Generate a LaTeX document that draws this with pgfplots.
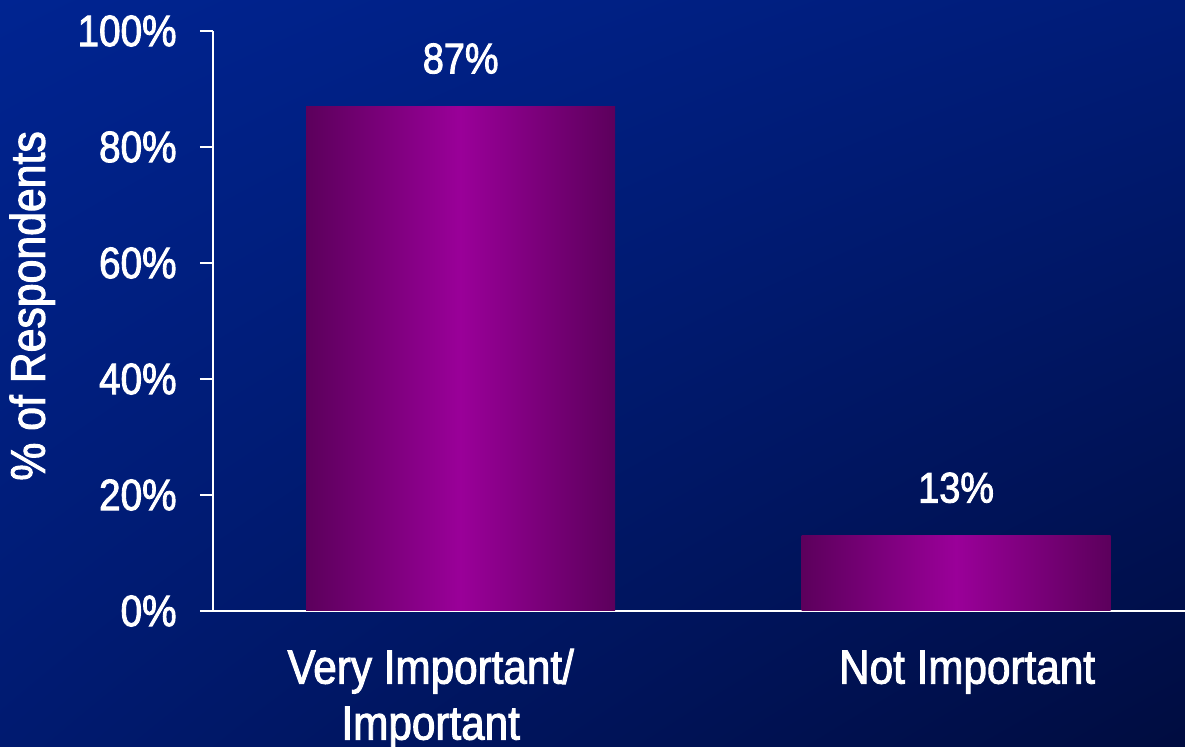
\documentclass[border=0pt]{standalone}
\usepackage{pgfplots}
\pgfplotsset{compat=1.18}
\usetikzlibrary{shadings}
\usepackage{fontspec}
\setmainfont{Liberation Sans}[FakeStretch=0.88, FakeBold=2]
\pgfdeclarelayer{background}
\pgfsetlayers{background,main}
\definecolor{bgTL}{RGB}{0,36,145}
\definecolor{bgTR}{RGB}{0,28,120}
\definecolor{bgBL}{RGB}{0,26,112}
\definecolor{bgBR}{RGB}{0,12,64}
\definecolor{barEdge}{RGB}{92,0,92}
\definecolor{barMid}{RGB}{154,0,153}
\begin{document}
\begin{tikzpicture}
\begin{axis}[
  scale only axis,
  width=486pt, height=290pt,
  xmin=-0.5, xmax=1.462,
  ymin=0, ymax=100,
  axis lines=left,
  axis line style={-, white, line width=1.1pt},
  xtick={0,1},
  xticklabels={{\hspace*{-30pt}\begin{tabular}{@{}c@{}}Very Important/\\Important\end{tabular}},{\hspace*{11pt}\begin{tabular}{@{}c@{}}Not Important\end{tabular}}},
  x tick style={draw=none},
  major tick length=6.5pt,
  tick align=outside,
  y tick style={white, line width=1.1pt},
  ytick={0,20,40,60,80,100},
  yticklabels={0\%,20\%,40\%,60\%,80\%,100\%},
  yticklabel style={font=\fontsize{22}{26}\selectfont, text=white, anchor=east, inner sep=0pt, xshift=-11.5pt},
  xticklabel style={font=\fontsize{24}{28}\selectfont, text=white, anchor=north, inner sep=0pt, yshift=-10pt},
  /pgf/number format/assume math mode=true,
  ylabel={\% of Respondents},
  ylabel style={font=\fontsize{24.3}{28}\selectfont, text=white, at={(axis description cs:-0.186,0.526)}, anchor=center},
  clip=false,
  every axis plot/.append style={ybar, bar width=154.5pt, bar shift=0pt, draw=none,
    nodes near coords={\pgfmathprintnumber{\pgfplotspointmeta}\%},
    every node near coord/.append style={font=\fontsize{21.5}{26}\selectfont, text=white, anchor=base, inner sep=0pt, yshift=16.5pt}},
]
\addplot[left color=barEdge, right color=barEdge, middle color=barMid] coordinates {(0,87)};
\addplot[left color=barEdge, right color=barEdge, middle color=barMid] coordinates {(1,13)};
\end{axis}
\begin{pgfonlayer}{background}
\shade[upper left=bgTL, upper right=bgTR, lower left=bgBL, lower right=bgBR]
  ([shift={(-106.5pt,-68pt)}]current axis.south west) rectangle ([shift={(0pt,15.5pt)}]current axis.north east);
\end{pgfonlayer}
\pgfresetboundingbox
\path ([shift={(-106.5pt,-68pt)}]current axis.south west) rectangle ([shift={(0pt,15.5pt)}]current axis.north east);
\end{tikzpicture}
\end{document}
